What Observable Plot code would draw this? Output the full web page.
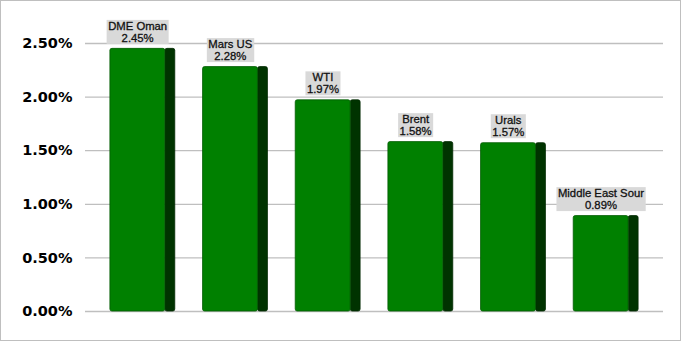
<!DOCTYPE html>
<html>
<head>
<meta charset="utf-8">
<script src="https://cdn.jsdelivr.net/npm/d3@7"></script>
<script src="https://cdn.jsdelivr.net/npm/@observablehq/plot@0.6"></script>
<style>
  html, body { margin: 0; padding: 0; background: #fff; }
  #wrap { position: relative; width: 681px; height: 341px; }
  #border { position: absolute; left: 0; top: 0; width: 681px; height: 341px; box-sizing: border-box; border: 1px solid #bfbfbf; pointer-events: none; }
  svg { display: block; }
</style>
</head>
<body>
<div id="wrap"><div id="border"></div></div>
<script>
const categories = ["DME Oman", "Mars US", "WTI", "Brent", "Urals", "Middle East Sour"];
const values = [2.45, 2.28, 1.97, 1.58, 1.57, 0.89];
const yTicks = [0, 0.5, 1.0, 1.5, 2.0, 2.5];

const data = categories.map((c, i) => ({name: c, value: values[i]}));

const chart = Plot.plot({
  width: 681,
  height: 341,
  marginLeft: 85,
  marginRight: 18,
  marginTop: 43,
  marginBottom: 30,
  style: {background: "transparent", overflow: "visible"},
  x: {domain: categories, insetLeft: 11, insetRight: 11, paddingInner: 0.3, paddingOuter: 0.15, round: false, axis: null},
  y: {domain: [0, 2.5], ticks: yTicks, tickFormat: d => d.toFixed(2) + "%", tickSize: 0, tickPadding: 13, label: null},
  marks: [
    Plot.gridY(yTicks, {stroke: "#bfbfbf", strokeOpacity: 1, strokeWidth: 1.3}),
    Plot.barY(data, {x: "name", y: "value", fill: "#003300", stroke: "#002a00", strokeWidth: 0.8, rx: 2, insetLeft: 55}),
    Plot.barY(data, {x: "name", y: "value", fill: "#008000", stroke: "#005a00", strokeWidth: 0.8, rx: 2, insetRight: 10}),
    Plot.text(data, {x: "name", y: "value", text: d => `${d.name}\n${d.value.toFixed(2)}%`, dx: -5.2, dy: -7, lineAnchor: "bottom", lineHeight: 1.06, fontSize: 11.3, fill: "#111", stroke: "#111", strokeWidth: 0.3, fontFamily: "Liberation Sans, Arial, sans-serif", className: "lbl"})
  ]
});

const wrap = document.getElementById("wrap");
wrap.insertBefore(chart, wrap.firstChild);

// axis tick label styling
d3.select(chart).selectAll("[aria-label='y-axis tick label'] text")
  .style("font-family", "DejaVu Sans, Verdana, sans-serif")
  .style("font-weight", "bold")
  .style("font-size", "14.5px")
  .attr("fill", "#000");

// gray boxes behind labels
d3.select(chart).selectAll("g.lbl text").each(function() {
  const bb = this.getBBox();
  const r = document.createElementNS("http://www.w3.org/2000/svg", "rect");
  r.setAttribute("x", bb.x - 1.5);
  r.setAttribute("y", bb.y);
  r.setAttribute("width", bb.width + 3);
  r.setAttribute("height", bb.height);
  r.setAttribute("fill", "#d9d9d9");
  r.setAttribute("stroke", "none");
  const t = this.getAttribute("transform");
  if (t) r.setAttribute("transform", t);
  this.parentNode.insertBefore(r, this);
});
</script>
</body>
</html>
